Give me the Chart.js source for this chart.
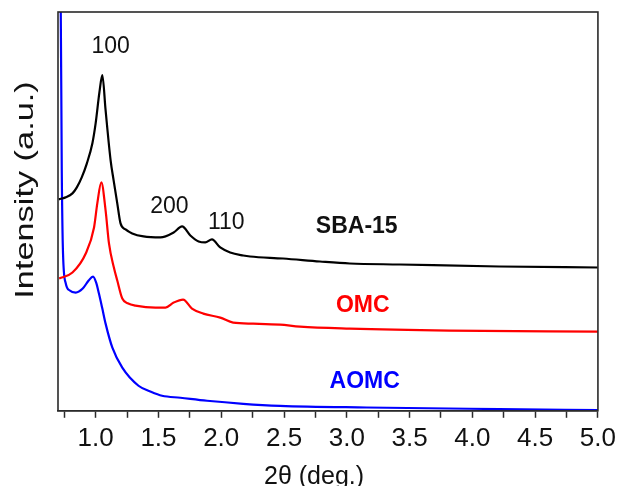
<!DOCTYPE html>
<html>
<head>
<meta charset="utf-8">
<script src="https://cdn.jsdelivr.net/npm/chart.js@4"></script>
<style>
  html, body { margin: 0; padding: 0; background: #fff; overflow: hidden; }
  #wrap { width: 621px; height: 486px; }
</style>
</head>
<body>
<div id="wrap"><canvas id="grafica"></canvas></div>
<script>
// 2theta (deg.) and intensity (a.u.)
const sbaX = [0.706, 0.760, 0.815, 0.850, 0.889, 0.930, 0.974, 1.000, 1.030, 1.053, 1.079, 1.119, 1.143, 1.172, 1.198, 1.238, 1.291, 1.381, 1.516, 1.621, 1.688, 1.754, 1.820, 1.873, 1.926, 1.992, 2.071, 2.175, 2.230, 2.492, 2.786, 3.024, 3.421, 4.214, 5.0];
const sbaY = [211, 213, 217, 223, 233, 247, 267, 287, 318, 335, 300, 250, 230, 207, 187, 181, 177, 174, 173, 178, 184, 175, 169, 168, 171, 163, 158, 155, 154, 152, 149, 147, 146, 144, 143];

const omcX = [0.709, 0.815, 0.921, 0.987, 1.013, 1.045, 1.079, 1.106, 1.145, 1.172, 1.212, 1.260, 1.317, 1.476, 1.556, 1.621, 1.696, 1.767, 1.857, 1.992, 2.095, 2.254, 2.468, 2.627, 3.024, 3.817, 5.0];
const omcY = [132, 138, 157, 183, 207, 228, 200, 167, 143, 130, 112, 107, 105, 103, 103, 108, 111, 102, 97, 93, 88, 87, 86, 84, 82, 80, 79];

const aomcX = [0.710, 0.722, 0.730, 0.740, 0.762, 0.794, 0.841, 0.897, 0.944, 0.979, 1.004, 1.026, 1.053, 1.079, 1.133, 1.212, 1.341, 1.440, 1.529, 1.675, 1.887, 2.175, 2.468, 3.156, 4.214, 5.0];
const aomcY = [430, 398, 240, 157, 127, 120, 118, 122, 130, 134, 128, 117, 102, 87, 63, 43, 25, 19, 15, 13, 10, 7, 5, 3.3, 1.7, 0.7];

const nombres = ["SBA-15", "OMC", "AOMC"];
const colores = ["#000000", "#ff0000", "#0000ff"];

function puntos(xs, ys) {
    return xs.map((x, i) => ({ x: x, y: ys[i] }));
}

const FONT = "'Liberation Sans', Arial, Helvetica, sans-serif";

// frame, peak labels, sample names and the y title
const extras = {
    id: "extras",
    afterDraw(chart) {
        const ctx = chart.ctx;
        const a = chart.chartArea;
        const xs = chart.scales.x;
        const ys = chart.scales.y;
        ctx.save();
        ctx.strokeStyle = "#2a2a2a";
        ctx.lineWidth = 1.6;
        ctx.strokeRect(a.left, a.top, a.right - a.left, a.bottom - a.top);

        ctx.textAlign = "center";
        ctx.textBaseline = "middle";
        ctx.fillStyle = "#111";
        ctx.font = "23px " + FONT;
        ctx.fillText("100", xs.getPixelForValue(1.119), ys.getPixelForValue(363));
        ctx.fillText("200", xs.getPixelForValue(1.587), ys.getPixelForValue(204));
        ctx.fillText("110", xs.getPixelForValue(2.040), ys.getPixelForValue(188));

        ctx.font = "bold 23px " + FONT;
        ctx.fillStyle = "#111";
        ctx.fillText(nombres[0], xs.getPixelForValue(3.079), ys.getPixelForValue(184));
        ctx.fillStyle = colores[1];
        ctx.fillText(nombres[1], xs.getPixelForValue(3.127), ys.getPixelForValue(105));
        ctx.fillStyle = colores[2];
        ctx.fillText(nombres[2], xs.getPixelForValue(3.143), ys.getPixelForValue(29));

        ctx.translate(26, 190);
        ctx.rotate(-Math.PI / 2);
        ctx.scale(1.32, 1);
        ctx.fillStyle = "#111";
        ctx.font = "26px " + FONT;
        ctx.fillText("Intensity (a.u.)", 0, 0);
        ctx.restore();
    }
};

const data = {
    datasets: [
        { label: nombres[0], data: puntos(sbaX, sbaY), borderColor: colores[0] },
        { label: nombres[1], data: puntos(omcX, omcY), borderColor: colores[1] },
        { label: nombres[2], data: puntos(aomcX, aomcY), borderColor: colores[2] }
    ]
};

const config = {
    type: "line",
    data: data,
    plugins: [extras],
    options: {
        responsive: true,
        maintainAspectRatio: false,
        animation: false,
        datasets: {
            line: {
                borderWidth: 2.2,
                pointRadius: 0,
                cubicInterpolationMode: "monotone"
            }
        },
        layout: {
            padding: { left: 58, right: 19, top: 12, bottom: -18 }
        },
        plugins: {
            legend: { display: false },
            tooltip: { enabled: false }
        },
        scales: {
            x: {
                type: "linear",
                min: 0.7,
                max: 5.0,
                grid: {
                    drawOnChartArea: false,
                    tickLength: 7,
                    tickColor: "#2a2a2a",
                    tickWidth: 1.5
                },
                border: { display: true, color: "#2a2a2a", width: 1.6 },
                ticks: {
                    stepSize: 0.25,
                    includeBounds: false,
                    autoSkip: false,
                    maxRotation: 0,
                    padding: 5,
                    color: "#111",
                    font: { family: FONT, size: 26 },
                    callback: function (value) {
                        const doble = value * 2;
                        if (Math.abs(doble - Math.round(doble)) < 1e-6 && value >= 1) {
                            return value.toFixed(1);
                        }
                        return "";
                    }
                },
                title: {
                    display: true,
                    text: "2θ (deg.)    ",
                    color: "#111",
                    padding: { top: 3, bottom: 12 },
                    font: { family: FONT, size: 25 }
                }
            },
            y: {
                display: false,
                min: 0,
                max: 398
            }
        }
    }
};

const ctx = document.getElementById("grafica");
const graficaXRD = new Chart(ctx, config);
</script>
</body>
</html>
